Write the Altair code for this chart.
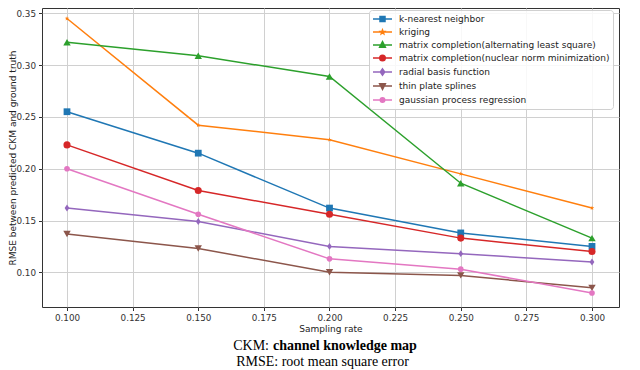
import math
import altair as alt
import pandas as pd

# ---------------- data ----------------
rates = [0.10, 0.15, 0.20, 0.25, 0.30]
methods = [
    "k-nearest neighbor",
    "kriging",
    "matrix completion(alternating least square)",
    "matrix completion(nuclear norm minimization)",
    "radial basis function",
    "thin plate splines",
    "gaussian process regression",
]
knn = [0.255, 0.215, 0.162, 0.138, 0.125]
kriging = [0.345, 0.242, 0.228, 0.195, 0.162]
mc_als = [0.322, 0.309, 0.289, 0.186, 0.133]
mc_nnm = [0.223, 0.179, 0.156, 0.133, 0.120]
rbf = [0.162, 0.149, 0.125, 0.118, 0.110]
tps = [0.137, 0.123, 0.100, 0.097, 0.085]
gpr = [0.200, 0.156, 0.113, 0.103, 0.080]
series = [knn, kriging, mc_als, mc_nnm, rbf, tps, gpr]

colors = ["#1f77b4", "#ff7f0e", "#2ca02c", "#d62728", "#9467bd", "#8c564b", "#e377c2"]
x_ticks = [0.100, 0.125, 0.150, 0.175, 0.200, 0.225, 0.250, 0.275, 0.300]
y_ticks = [0.10, 0.15, 0.20, 0.25, 0.30, 0.35]
x_title = "Sampling rate"
y_title = "RMSE between predicted CKM and ground truth"
cap_abbr = ["CKM:"]
cap_bold = ["channel knowledge map"]
cap_line2 = ["RMSE: root mean square error"]

rows = []
for m, vals in zip(methods, series):
    for r, v in zip(rates, vals):
        rows.append({"rate": r, "rmse": v, "method": m})
df = pd.DataFrame(rows)

# ---------------- marker shapes ----------------
def poly(pts, s=1.0):
    return "M" + "L".join(f"{x*s:.3f},{y*s:.3f}" for x, y in pts) + "Z"

def star_pts(R, r):
    pts = []
    for k in range(10):
        a = -math.pi / 2 + k * math.pi / 5
        rad = R if k % 2 == 0 else r
        pts.append((rad * math.cos(a), rad * math.sin(a)))
    return pts

def circle(r):
    return f"M{r},0A{r},{r} 0 1,1 {-r},0A{r},{r} 0 1,1 {r},0Z"

star_path = poly(star_pts(1.0, 0.42))
diamond_path = poly([(0, -1.15), (0.8, 0), (0, 1.15), (-0.8, 0)])

plot_shapes = ["square", star_path, "triangle-up", "circle", diamond_path, "triangle-down", "circle"]
plot_sizes = [46, 22, 55, 50, 36, 55, 32]

line_part = "M-1.9,0H1.9"
legend_shapes = [
    line_part + poly([(-1, -1), (1, -1), (1, 1), (-1, 1)], 0.5),
    line_part + poly(star_pts(1.0, 0.42), 0.42),
    line_part + poly([(0, -1.1), (0.95, 0.75), (-0.95, 0.75)], 0.6),
    line_part + circle(0.55),
    line_part + poly([(0, -1.15), (0.8, 0), (0, 1.15), (-0.8, 0)], 0.55),
    line_part + poly([(0, 1.1), (0.95, -0.75), (-0.95, -0.75)], 0.6),
    line_part + circle(0.45),
]

# ---------------- chart ----------------
W, H = 577, 299
x_dom = [0.090476, 0.310286]
y_dom = [0.06651, 0.35512]

x_enc = alt.X(
    "rate:Q",
    scale=alt.Scale(domain=x_dom, nice=False, zero=False),
    axis=alt.Axis(values=x_ticks, format=".3f", title=x_title, titleY=24,
                  titleBaseline="alphabetic"),
)
y_enc = alt.Y(
    "rmse:Q",
    scale=alt.Scale(domain=y_dom, nice=False, zero=False),
    axis=alt.Axis(values=y_ticks, format=".2f", title=y_title, titleX=-27,
                  titleBaseline="alphabetic", titleAngle=270),
)

base = alt.Chart(df)
layers = []
for m, c, shp, sz in zip(methods, colors, plot_shapes, plot_sizes):
    sub = base.transform_filter(alt.datum.method == m)
    layers.append(sub.mark_line(color=c, strokeWidth=1.5).encode(x=x_enc, y=y_enc))
    layers.append(
        sub.mark_point(filled=True, color=c, shape=shp, size=sz, opacity=1).encode(x=x_enc, y=y_enc)
    )

leg = alt.Legend(
    title=None, orient="none", legendX=327, legendY=2,
    labelFont="DejaVu Sans", labelFontSize=9, labelColor="#222",
    symbolSize=100, symbolStrokeWidth=1.5, symbolOffset=4.5, labelOffset=10.5,
    padding=3, rowPadding=1.0, fillColor="rgba(255,255,255,0.85)",
    strokeColor="#d0d0d0", cornerRadius=3, labelLimit=400,
)
legend_layer = base.transform_filter(alt.datum.rmse < 0).mark_point(
    filled=True, strokeWidth=1.5, opacity=1
).encode(
    x=x_enc, y=y_enc,
    fill=alt.Fill("method:N", scale=alt.Scale(domain=methods, range=colors), legend=leg, sort=methods),
    stroke=alt.Stroke("method:N", scale=alt.Scale(domain=methods, range=colors), legend=leg, sort=methods),
    shape=alt.Shape("method:N", scale=alt.Scale(domain=methods, range=legend_shapes), legend=leg, sort=methods),
)

cap1a = alt.Chart(pd.DataFrame({"t": cap_abbr})).mark_text(
    font="Liberation Serif", fontSize=14, align="right", baseline="alphabetic", color="#000"
).encode(text="t:N", x=alt.value(227), y=alt.value(342))
cap1b = alt.Chart(pd.DataFrame({"t": cap_bold})).mark_text(
    font="Liberation Serif", fontSize=14, fontWeight="bold", align="left", baseline="alphabetic", color="#000"
).encode(text="t:N", x=alt.value(231), y=alt.value(342))
cap2 = alt.Chart(pd.DataFrame({"t": cap_line2})).mark_text(
    font="Liberation Serif", fontSize=14, align="center", baseline="alphabetic", color="#000"
).encode(text="t:N", x=alt.value(280.5), y=alt.value(358))

chart = alt.layer(*layers, legend_layer, cap1a, cap1b, cap2).properties(
    width=W, height=H,
    autosize=alt.AutoSizeParams(type="none"),
    padding={"left": 34, "top": 0, "right": 6, "bottom": 63},
).configure_view(
    stroke="#333", strokeWidth=1
).configure_axis(
    domain=False, grid=True, gridColor="#d0d0d0", gridWidth=1,
    labelFont="DejaVu Sans", labelFontSize=8.8, labelColor="#333",
    titleFont="DejaVu Sans", titleFontSize=9, titleFontWeight="normal", titleColor="#222",
    tickColor="#333", tickSize=3.5, tickWidth=1, labelPadding=2.5,
).configure_axisY(labelPadding=3)

chart.save("out.html", embed_options={"renderer": "svg", "actions": False})
